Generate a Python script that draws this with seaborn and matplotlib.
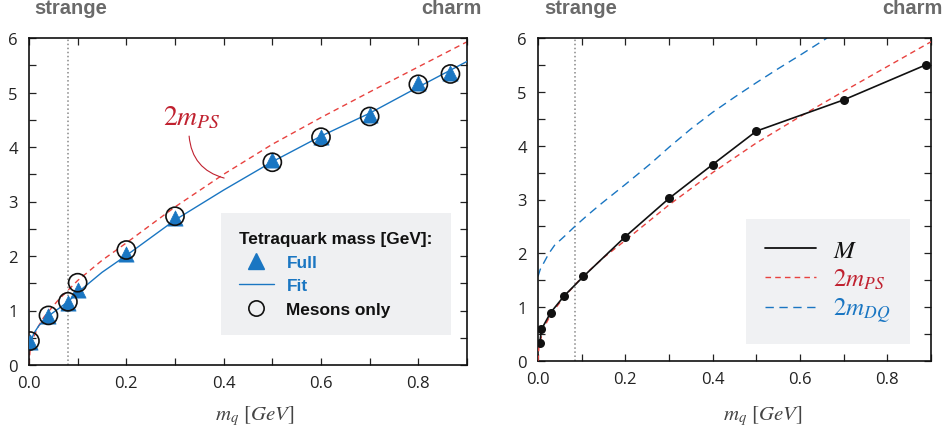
import matplotlib
matplotlib.use("Agg")
import matplotlib.pyplot as plt
import seaborn as sns
import numpy as np
import pandas as pd
from matplotlib.lines import Line2D
from matplotlib.ticker import MultipleLocator, FormatStrFormatter

# ---------------- data ----------------
# left panel: tetraquark mass
full_mq = [0.002, 0.04, 0.08, 0.10, 0.20, 0.30, 0.50, 0.60, 0.70, 0.80, 0.866]
full_M = [0.42, 0.90, 1.14, 1.38, 2.03, 2.69, 3.77, 4.19, 4.58, 5.17, 5.36]
mes_mq = [0.002, 0.04, 0.08, 0.10, 0.20, 0.30, 0.50, 0.60, 0.70, 0.80, 0.866]
mes_M = [0.44, 0.91, 1.16, 1.51, 2.11, 2.73, 3.72, 4.18, 4.56, 5.15, 5.34]
fit_mq = [0.0, 0.002, 0.01, 0.02, 0.04, 0.06, 0.08, 0.10, 0.15, 0.20, 0.30, 0.40, 0.50, 0.60, 0.70, 0.80, 0.90]
fit_M = [0.30, 0.40, 0.58, 0.72, 0.90, 1.03, 1.16, 1.33, 1.70, 2.01, 2.66, 3.21, 3.73, 4.20, 4.62, 5.10, 5.57]

# 2 m_PS curve (both panels)
ps_mq = [0.0, 0.002, 0.005, 0.01, 0.02, 0.03, 0.04, 0.06, 0.08, 0.10, 0.15, 0.20, 0.30, 0.40, 0.50, 0.60, 0.70, 0.80, 0.90]
ps_2m = [0.0, 0.25, 0.37, 0.52, 0.72, 0.87, 0.98, 1.19, 1.37, 1.55, 1.92, 2.24, 2.90, 3.50, 4.05, 4.54, 5.01, 5.47, 5.93]

# right panel
dq_mq = [0.0, 0.005, 0.015, 0.025, 0.038, 0.061, 0.083, 0.115, 0.146, 0.20, 0.257, 0.30, 0.35, 0.40, 0.45, 0.50, 0.55, 0.60, 0.662]
dq_2m = [1.57, 1.70, 1.85, 2.00, 2.15, 2.32, 2.49, 2.72, 2.93, 3.28, 3.66, 3.97, 4.31, 4.62, 4.90, 5.17, 5.43, 5.68, 6.00]
M_mq = [0.004, 0.008, 0.029, 0.060, 0.104, 0.20, 0.30, 0.40, 0.50, 0.70, 0.888]
M_val = [0.33, 0.59, 0.90, 1.21, 1.57, 2.31, 3.02, 3.65, 4.27, 4.85, 5.50]

strange_line = [0.08, 0.084]
label_x = {"strange": [0.086, 0.097], "charm": [0.868, 0.858]}

# ---------------- style ----------------
sns.set_style("ticks")
plt.rcParams["font.family"] = ["Open Sans", "DejaVu Sans"]
plt.rcParams["mathtext.fontset"] = "stix"

BLUE = "#1a76c2"
RED_D = "#e8423f"
RED_T = "#c0212f"
GRAY_LBL = "#6a6a6a"
BOLD = ["Liberation Sans", "DejaVu Sans"]

fig = plt.figure(figsize=(9.45, 4.35), dpi=100)
axL = fig.add_axes([29/945, (435-366)/435, 438/945, 327/435])
axR = fig.add_axes([538/945, (435-362)/435, 393/945, 323/435])

for ax in (axL, axR):
    ax.set_xlim(0, 0.9)
    ax.set_ylim(0, 6)
    ax.xaxis.set_major_locator(MultipleLocator(0.2))
    ax.xaxis.set_minor_locator(MultipleLocator(0.1))
    ax.yaxis.set_major_locator(MultipleLocator(1))
    ax.yaxis.set_minor_locator(MultipleLocator(0.5))
    ax.tick_params(which="both", direction="in", top=True, right=True,
                   length=5, width=0.9, color="#222222")
    ax.tick_params(which="major", labelsize=12, labelcolor="#222222")
    ax.tick_params(axis="x", which="major", pad=7)
    ax.tick_params(axis="y", which="major", pad=8)
    for s in ax.spines.values():
        s.set_linewidth(1.2)
        s.set_color("#111111")
    ax.xaxis.set_major_formatter(FormatStrFormatter("%.1f"))
    ax.yaxis.set_major_formatter(FormatStrFormatter("%d"))

# ---------------- left panel ----------------
axL.axvline(strange_line[0], color="#888888", ls=":", lw=1.1, zorder=1)
sns.lineplot(x=ps_mq, y=ps_2m, ax=axL, color=RED_D, lw=1.0, zorder=2)
axL.lines[-1].set_dashes((4, 3))
sns.lineplot(x=fit_mq, y=fit_M, ax=axL, color=BLUE, lw=1.0, zorder=3)
sns.scatterplot(x=full_mq, y=full_M, ax=axL, marker="^", s=120, color=BLUE,
                edgecolor=BLUE, linewidth=0.5, zorder=4)
sns.scatterplot(x=mes_mq, y=mes_M, ax=axL, marker="o", s=170, facecolor="none",
                edgecolor="#111111", linewidth=1.2, zorder=5)

axL.text(0.334, 4.55, r"$2m_{PS}$", color=RED_T, fontsize=20, ha="center", va="center")
axL.annotate("", xy=(0.401, 3.43), xytext=(0.329, 4.20),
             arrowprops=dict(arrowstyle="-", color=RED_T, lw=0.8,
                             shrinkA=0, shrinkB=0,
                             connectionstyle="arc3,rad=0.35"))

hL = [Line2D([], [], ls="none", marker="^", ms=11, color=BLUE),
      Line2D([], [], color=BLUE, lw=1.0),
      Line2D([], [], ls="none", marker="o", ms=11, mfc="none", mec="#111111", mew=1.2)]
legL = axL.legend(hL, ["Full", "Fit", "Mesons only"], title="Tetraquark mass [GeV]:",
                  loc="upper left", bbox_to_anchor=((221-29)/438, (366-214)/327),
                  frameon=True, fancybox=False, facecolor="#eff0f2", edgecolor="none",
                  framealpha=1, borderpad=1.05, labelspacing=0.5, handlelength=2.0,
                  handletextpad=0.75, borderaxespad=0,
                  prop=dict(family=BOLD, weight="bold", size=12.4),
                  title_fontproperties=dict(family=BOLD, weight="bold", size=12.4))
legL._legend_box.align = "left"
for t, c in zip(legL.get_texts(), [BLUE, BLUE, "#111111"]):
    t.set_color(c)
legL.get_title().set_color("#111111")

# ---------------- right panel ----------------
axR.axvline(strange_line[1], color="#888888", ls=":", lw=1.1, zorder=1)
sns.lineplot(x=dq_mq, y=dq_2m, ax=axR, color=BLUE, lw=1.0, zorder=2)
axR.lines[-1].set_dashes((6, 4))
sns.lineplot(x=ps_mq, y=ps_2m, ax=axR, color=RED_D, lw=1.0, zorder=3)
axR.lines[-1].set_dashes((4, 3))
sns.lineplot(x=M_mq, y=M_val, ax=axR, color="#111111", lw=1.2, marker="o",
             markersize=6.5, markeredgewidth=0, zorder=4)

hR = [Line2D([], [], color="#111111", lw=1.3),
      Line2D([], [], color=RED_D, lw=1.0, dashes=(4, 3)),
      Line2D([], [], color=BLUE, lw=1.0, dashes=(6, 4))]
legR = axR.legend(hR, [r"$M$", r"$2m_{PS}$", r"$2m_{DQ}$"],
                  loc="upper left", bbox_to_anchor=((746-538)/393, (362-220)/323),
                  frameon=True, fancybox=False, facecolor="#f0f1f3", edgecolor="none",
                  framealpha=1, borderpad=0.75, labelspacing=0.15, handlelength=2.05,
                  handletextpad=0.7, borderaxespad=0, prop=dict(size=18))
for t, c in zip(legR.get_texts(), ["#111111", RED_T, BLUE]):
    t.set_color(c)

# axis labels
for ax in (axL, axR):
    ax.set_xlabel(r"$m_q\ [GeV]$", fontsize=15, color="#444444")
axL.xaxis.set_label_coords((255-29)/438, -(404-366)/327)
axR.xaxis.set_label_coords((763-538)/393, -(404-362)/323)

# quark labels above the panels
tops = [(366-14)/327, (362-14)/323]
for i, ax in enumerate((axL, axR)):
    for name, xs in label_x.items():
        ax.text(xs[i], tops[i], name, transform=ax.get_xaxis_transform(),
                ha="center", va="baseline", fontsize=14.5, fontweight="bold",
                family=BOLD, color=GRAY_LBL, clip_on=False)

fig.savefig("out.png", dpi=100)
